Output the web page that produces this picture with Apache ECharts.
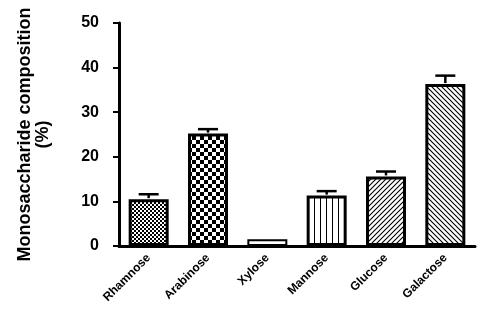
<!DOCTYPE html>
<html>
<head>
<meta charset="utf-8">
<script src="https://cdn.jsdelivr.net/npm/echarts@6/dist/echarts.min.js"></script>
<style>
html,body{margin:0;padding:0;background:#fff;}
#main{width:483px;height:315px;}
</style>
</head>
<body>
<div id="main"></div>
<script>
var sugars = ['Rhamnose', 'Arabinose', 'Xylose', 'Mannose', 'Glucose', 'Galactose'];
var means = [10.5, 25.2, 1.5, 11.3, 15.6, 36.3];
var errs = [1.1, 1.0, 0, 1.0, 1.1, 1.9];
var yTicks = [0, 10, 20, 30, 40, 50];

// small canvas tiles for the hatch fills
function tile(w, h, draw){
  var c = document.createElement('canvas');
  c.width = w; c.height = h;
  var ctx = c.getContext('2d');
  ctx.fillStyle = '#fff';
  ctx.fillRect(0, 0, w, h);
  ctx.fillStyle = '#000';
  ctx.strokeStyle = '#000';
  draw(ctx);
  return {image: c, repeat: 'repeat'};
}
var fills = [
  tile(4, 4, function(ctx){ ctx.fillRect(0,0,2,2); ctx.fillRect(2,2,2,2); }),
  tile(8, 8, function(ctx){ ctx.fillRect(0,0,4,4); ctx.fillRect(4,4,4,4); }),
  '#fff',
  tile(6, 6, function(ctx){ ctx.fillRect(2,0,1,6); }),
  tile(5, 5, function(ctx){
    ctx.lineWidth = 1.1;
    ctx.beginPath();
    ctx.moveTo(-1,6); ctx.lineTo(6,-1);
    ctx.moveTo(-1,1); ctx.lineTo(1,-1);
    ctx.moveTo(4,6); ctx.lineTo(6,4);
    ctx.stroke();
  }),
  tile(5, 5, function(ctx){
    ctx.lineWidth = 1.1;
    ctx.beginPath();
    ctx.moveTo(-1,-1); ctx.lineTo(6,6);
    ctx.moveTo(4,-1); ctx.lineTo(6,1);
    ctx.moveTo(-1,4); ctx.lineTo(1,6);
    ctx.stroke();
  })
];

var barData = [];
var errData = [];
for (var i = 0; i < sugars.length; i++){
  barData.push({value: means[i], itemStyle: {color: fills[i], borderWidth: i == 2 ? 2 : 3}});
  if (errs[i] > 0) errData.push([i, means[i], errs[i]]);
}

var myChart = echarts.init(document.getElementById('main'), null, {renderer: 'canvas'});
var option = {
  animation: false,
  backgroundColor: '#fff',
  grid: {left: 119, right: 8, top: 23, bottom: 69},
  xAxis: {
    type: 'category',
    data: sugars,
    axisLine: {lineStyle: {color: '#000', width: 3}},
    axisTick: {alignWithLabel: true, length: 6, lineStyle: {color: '#000', width: 2}},
    axisLabel: {
      interval: 0, rotate: 45, margin: 10,
      color: '#000', fontWeight: 'bold', fontSize: 12,
      fontFamily: 'Liberation Sans, Arial, sans-serif'
    }
  },
  yAxis: {
    type: 'value',
    min: yTicks[0], max: yTicks[yTicks.length - 1], interval: 10,
    name: 'Monosaccharide composition\n(%)',
    nameLocation: 'middle',
    nameGap: 67,
    nameTextStyle: {
      color: '#000', fontWeight: 'bold', fontSize: 18, lineHeight: 18,
      fontFamily: 'Liberation Sans, Arial, sans-serif'
    },
    axisLine: {show: true, lineStyle: {color: '#000', width: 3}},
    axisTick: {show: true, length: 6, lineStyle: {color: '#000', width: 2}},
    splitLine: {show: false},
    axisLabel: {
      margin: 20, color: '#000', fontWeight: 'bold', fontSize: 16,
      fontFamily: 'Liberation Sans, Arial, sans-serif'
    }
  },
  series: [
    {
      type: 'bar',
      data: barData,
      barWidth: 40,
      itemStyle: {borderColor: '#000', borderWidth: 3},
      z: 2
    },
    {
      type: 'custom',
      data: errData,
      z: 3,
      renderItem: function(params, api){
        var x = api.value(0);
        var lo = api.coord([x, api.value(1)]);
        var hi = api.coord([x, api.value(1) + api.value(2)]);
        var style = {stroke: '#000', lineWidth: 2.5, fill: null};
        return {
          type: 'group',
          children: [
            {type: 'line', shape: {x1: lo[0], y1: lo[1] - 1, x2: hi[0], y2: hi[1]}, style: style},
            {type: 'line', shape: {x1: hi[0] - 10, y1: hi[1], x2: hi[0] + 10, y2: hi[1]}, style: style}
          ]
        };
      }
    }
  ]
};
myChart.setOption(option);
</script>
</body>
</html>
